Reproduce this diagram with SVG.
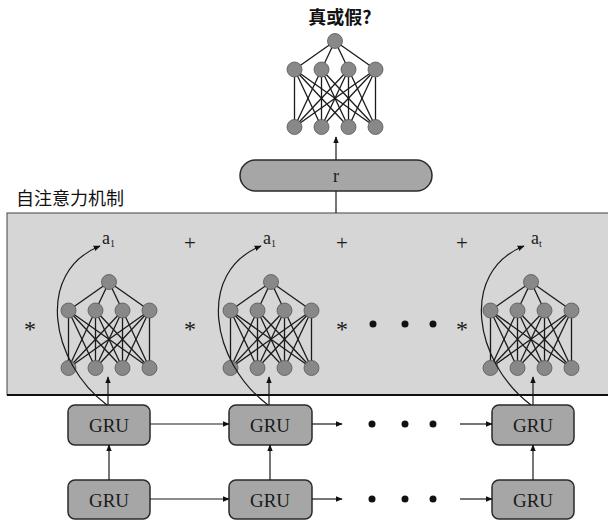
<svg xmlns="http://www.w3.org/2000/svg" xmlns:xlink="http://www.w3.org/1999/xlink" width="608" height="521" viewBox="0 0 608 521">
<style>
.cjk{font-family:"Noto Sans CJK SC","Noto Sans",sans-serif;fill:#111;}
.serif{font-family:"Liberation Serif","DejaVu Serif",serif;fill:#1a1a1a;}
.edge{stroke:#1a1a1a;stroke-width:1.3;fill:none;}
.node{fill:#888888;stroke:#555555;stroke-width:0.8;}
.box{fill:#a6a6a6;stroke:#2a2a2a;stroke-width:1.5;}
.conn{stroke:#1a1a1a;stroke-width:1.2;fill:none;}
.dot{fill:#111;}
</style>
<defs>
<marker id="arr" viewBox="0 0 10 10" refX="9" refY="5" markerWidth="7" markerHeight="7" orient="auto" markerUnits="userSpaceOnUse">
<path d="M0,1 L10,5 L0,9 z" fill="#111"/>
</marker>
<g id="mlp">
<g class="edge">
<line x1="-40.5" y1="28.5" x2="0" y2="0"/><line x1="-13.5" y1="28.5" x2="0" y2="0"/><line x1="13.5" y1="28.5" x2="0" y2="0"/><line x1="40.5" y1="28.5" x2="0" y2="0"/>
<line x1="-40.5" y1="86" x2="-40.5" y2="28.5"/><line x1="-40.5" y1="86" x2="-13.5" y2="28.5"/><line x1="-40.5" y1="86" x2="13.5" y2="28.5"/><line x1="-40.5" y1="86" x2="40.5" y2="28.5"/>
<line x1="-13.5" y1="86" x2="-40.5" y2="28.5"/><line x1="-13.5" y1="86" x2="-13.5" y2="28.5"/><line x1="-13.5" y1="86" x2="13.5" y2="28.5"/><line x1="-13.5" y1="86" x2="40.5" y2="28.5"/>
<line x1="13.5" y1="86" x2="-40.5" y2="28.5"/><line x1="13.5" y1="86" x2="-13.5" y2="28.5"/><line x1="13.5" y1="86" x2="13.5" y2="28.5"/><line x1="13.5" y1="86" x2="40.5" y2="28.5"/>
<line x1="40.5" y1="86" x2="-40.5" y2="28.5"/><line x1="40.5" y1="86" x2="-13.5" y2="28.5"/><line x1="40.5" y1="86" x2="13.5" y2="28.5"/><line x1="40.5" y1="86" x2="40.5" y2="28.5"/>
</g>
<circle class="node" cx="0" cy="0" r="7.5"/>
<circle class="node" cx="-40.5" cy="28.5" r="7.5"/><circle class="node" cx="-13.5" cy="28.5" r="7.5"/><circle class="node" cx="13.5" cy="28.5" r="7.5"/><circle class="node" cx="40.5" cy="28.5" r="7.5"/>
<circle class="node" cx="-40.5" cy="86" r="7.5"/><circle class="node" cx="-13.5" cy="86" r="7.5"/><circle class="node" cx="13.5" cy="86" r="7.5"/><circle class="node" cx="40.5" cy="86" r="7.5"/>
</g>
</defs>

<rect x="0" y="0" width="608" height="521" fill="#ffffff"/>

<g id="attention-box">
<rect x="7" y="213" width="602" height="182" fill="#d6d6d6" stroke="#444" stroke-width="1"/>
<line x1="7" y1="395" x2="608" y2="395" stroke="#111" stroke-width="2"/>
<text class="cjk" x="16" y="205" font-size="18">自注意力机制</text>
</g>

<g id="title">
<text class="cjk" x="340" y="24" font-size="18" font-weight="bold" text-anchor="middle">真或假?</text>
</g>

<g id="discriminator">
<use xlink:href="#mlp" x="335" y="41"/>
</g>

<g id="r-vector">
<rect x="240" y="160" width="192" height="31" rx="15.5" class="box"/>
<text class="serif" x="336" y="182" font-size="18" text-anchor="middle">r</text>
</g>

<g id="mlp1"><use xlink:href="#mlp" x="109" y="282"/></g>
<g id="mlp2"><use xlink:href="#mlp" x="271" y="282"/></g>
<g id="mlp3"><use xlink:href="#mlp" x="531" y="282"/></g>

<g id="labels">
<text class="serif" x="102" y="244" font-size="18">a<tspan font-size="10" dy="3">1</tspan></text>
<text class="serif" x="263" y="244" font-size="18">a<tspan font-size="10" dy="3">1</tspan></text>
<text class="serif" x="531" y="244" font-size="18">a<tspan font-size="10" dy="3">t</tspan></text>
</g>

<g id="operators" class="serif" text-anchor="middle">
<text x="30" y="337" font-size="24">*</text>
<text x="190" y="337" font-size="24">*</text>
<text x="342" y="337" font-size="24">*</text>
<text x="462" y="337" font-size="24">*</text>
<text x="190" y="250" font-size="21">+</text>
<text x="342" y="250" font-size="21">+</text>
<text x="462" y="250" font-size="21">+</text>
<circle class="dot" cx="373" cy="324" r="3.5"/>
<circle class="dot" cx="405" cy="324" r="3.5"/>
<circle class="dot" cx="433" cy="324" r="3.5"/>
</g>

<g id="gru-1-1"><rect class="box" x="68" y="405" width="82" height="40" rx="7"/><text class="serif" x="109" y="432" font-size="19" text-anchor="middle">GRU</text></g>
<g id="gru-1-2"><rect class="box" x="229" y="405" width="83" height="40" rx="7"/><text class="serif" x="270" y="432" font-size="19" text-anchor="middle">GRU</text></g>
<g id="gru-1-3"><rect class="box" x="492" y="405" width="82" height="40" rx="7"/><text class="serif" x="533" y="432" font-size="19" text-anchor="middle">GRU</text></g>
<g id="gru-2-1"><rect class="box" x="68" y="480" width="82" height="39" rx="7"/><text class="serif" x="109" y="507" font-size="19" text-anchor="middle">GRU</text></g>
<g id="gru-2-2"><rect class="box" x="229" y="480" width="83" height="39" rx="7"/><text class="serif" x="270" y="507" font-size="19" text-anchor="middle">GRU</text></g>
<g id="gru-2-3"><rect class="box" x="492" y="480" width="82" height="39" rx="7"/><text class="serif" x="533" y="507" font-size="19" text-anchor="middle">GRU</text></g>

<g id="connectors">
<line class="conn" x1="336" y1="160" x2="336" y2="137" marker-end="url(#arr)"/>
<line class="conn" x1="336" y1="191" x2="336" y2="213"/>
<path class="conn" d="M107,405 C50,362 35,272 100,246" marker-end="url(#arr)"/>
<path class="conn" d="M268,405 C211,362 196,272 261,246" marker-end="url(#arr)"/>
<path class="conn" d="M531,405 C474,362 459,272 524,246" marker-end="url(#arr)"/>
<line class="conn" x1="108" y1="405" x2="108" y2="377" marker-end="url(#arr)"/>
<line class="conn" x1="269" y1="405" x2="269" y2="377" marker-end="url(#arr)"/>
<line class="conn" x1="533" y1="405" x2="533" y2="377" marker-end="url(#arr)"/>
<line class="conn" x1="150" y1="424" x2="229" y2="424" marker-end="url(#arr)"/>
<line class="conn" x1="312" y1="424" x2="342" y2="424" marker-end="url(#arr)"/>
<line class="conn" x1="460" y1="424" x2="492" y2="424" marker-end="url(#arr)"/>
<line class="conn" x1="150" y1="499" x2="229" y2="499" marker-end="url(#arr)"/>
<line class="conn" x1="312" y1="499" x2="342" y2="499" marker-end="url(#arr)"/>
<line class="conn" x1="460" y1="499" x2="492" y2="499" marker-end="url(#arr)"/>
<line class="conn" x1="109" y1="480" x2="109" y2="445" marker-end="url(#arr)"/>
<line class="conn" x1="270" y1="480" x2="270" y2="445" marker-end="url(#arr)"/>
<line class="conn" x1="533" y1="480" x2="533" y2="445" marker-end="url(#arr)"/>
<circle class="dot" cx="372" cy="424" r="3.5"/>
<circle class="dot" cx="405" cy="424" r="3.5"/>
<circle class="dot" cx="433" cy="424" r="3.5"/>
<circle class="dot" cx="372" cy="499" r="3.5"/>
<circle class="dot" cx="405" cy="499" r="3.5"/>
<circle class="dot" cx="433" cy="499" r="3.5"/>
</g>
</svg>
